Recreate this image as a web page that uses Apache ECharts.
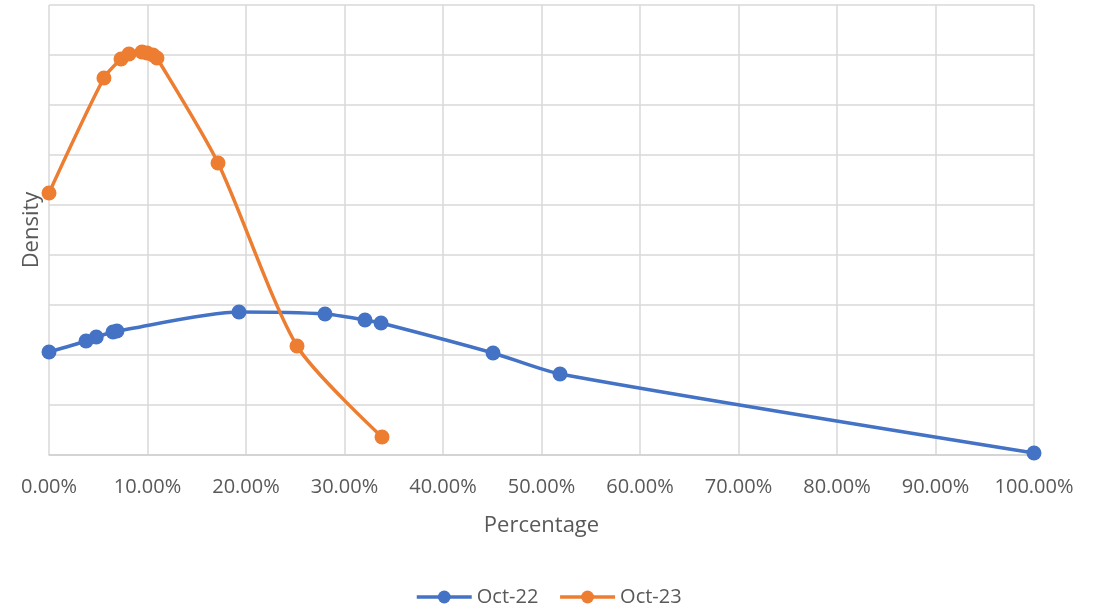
<!DOCTYPE html>
<html>
<head>
<meta charset="utf-8">
<script src="https://cdn.jsdelivr.net/npm/echarts@6/dist/echarts.min.js"></script>
<style>
html,body{margin:0;padding:0;background:#fff;}
#c{width:1103px;height:609px;}
</style>
</head>
<body>
<div id="c"></div>
<script>
const seriesNames = ['Oct-22', 'Oct-23'];
const oct22X = [0, 3.76, 4.8, 6.5, 6.9, 19.29, 28.02, 32.08, 33.71, 45.08, 51.88, 100];
const oct22Y = [2.06, 2.28, 2.36, 2.46, 2.48, 2.86, 2.82, 2.70, 2.64, 2.04, 1.62, 0.04];
const oct23X = [0, 5.58, 7.31, 8.12, 9.44, 9.95, 10.56, 10.96, 17.16, 25.18, 33.81];
const oct23Y = [5.24, 7.54, 7.92, 8.02, 8.06, 8.04, 8.0, 7.94, 5.84, 2.18, 0.36];
const xTicks = [0, 10, 20, 30, 40, 50, 60, 70, 80, 90, 100];

const pair = (xs, ys) => xs.map((x, i) => [x, ys[i]]);
const font = 'Open Sans';
const chart = echarts.init(document.getElementById('c'));
chart.setOption({
  animation: false,
  backgroundColor: '#fff',
  grid: {left: 49, right: 69, top: 5, bottom: 154},
  legend: {
    top: 582, left: 410, itemWidth: 55, itemHeight: 16, itemGap: 20,
    textStyle: {fontFamily: font, fontSize: 20, color: '#595959', padding: [0, 0, 0, 0]},
    lineStyle: {width: 3.5},
    data: seriesNames
  },
  xAxis: {
    type: 'value', min: 0, max: 100, interval: 10,
    name: 'Percentage', nameLocation: 'middle', nameGap: 60,
    nameTextStyle: {fontFamily: font, fontSize: 22, color: '#595959'},
    axisLine: {show: true, lineStyle: {color: '#d0d0d0', width: 1.5}},
    axisTick: {show: false},
    axisLabel: {margin: 22, fontFamily: font, fontSize: 20, color: '#595959',
      formatter: v => v.toFixed(2) + '%'},
    splitLine: {show: true, lineStyle: {color: '#d9d9d9', width: 1.5}}
  },
  yAxis: {
    type: 'value', min: 0, max: 9, interval: 1,
    name: 'Density', nameLocation: 'middle', nameGap: 6, nameRotate: 90,
    nameTextStyle: {fontFamily: font, fontSize: 22, color: '#595959'},
    axisLine: {show: false}, axisTick: {show: false},
    axisLabel: {show: false},
    splitLine: {show: true, lineStyle: {color: '#d9d9d9', width: 1.5}}
  },
  series: [
    {name: seriesNames[0], type: 'line', smooth: 0.25, data: pair(oct22X, oct22Y),
     symbol: 'circle', symbolSize: 15, color: '#4472C4',
     lineStyle: {width: 3.5, color: '#4472C4'}, itemStyle: {color: '#4472C4'}},
    {name: seriesNames[1], type: 'line', smooth: 0.25, data: pair(oct23X, oct23Y),
     symbol: 'circle', symbolSize: 15, color: '#ED7D31',
     lineStyle: {width: 3.5, color: '#ED7D31'}, itemStyle: {color: '#ED7D31'}}
  ]
});
</script>
</body>
</html>
